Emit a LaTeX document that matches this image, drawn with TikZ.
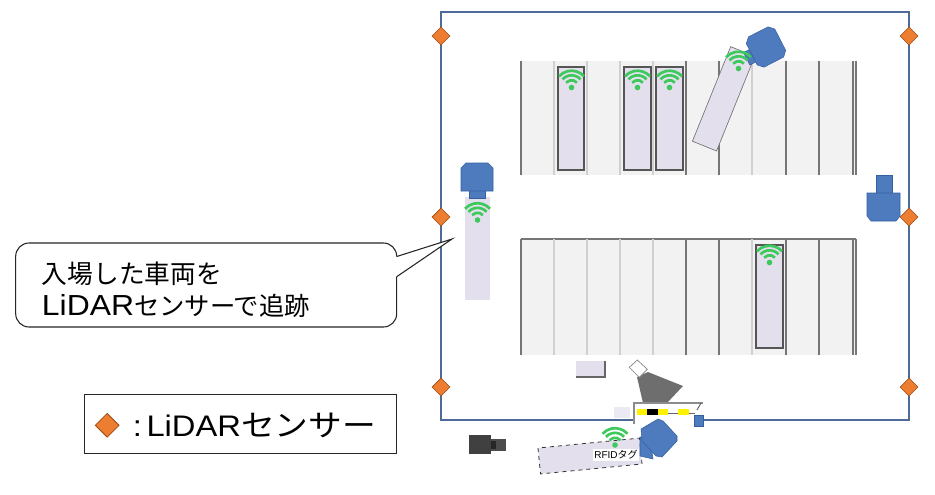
\documentclass[tikz,border=0pt]{standalone}
\usepackage{fontspec}
\setmainfont{Liberation Sans}
\newfontfamily\jp{Noto Sans CJK JP}
\newfontfamily\latwide[FakeStretch=1.1]{Liberation Sans}
\newfontfamily\jpwide[FakeStretch=1.12]{Noto Sans CJK JP}
\usetikzlibrary{shapes.geometric}

\definecolor{framecol}{HTML}{4D6A98}
\definecolor{sensorfill}{HTML}{ED7D31}
\definecolor{sensordraw}{HTML}{9C4A12}
\definecolor{stallfill}{HTML}{F2F2F2}
\definecolor{stalllight}{HTML}{D0D0D0}
\definecolor{stalldark}{HTML}{767676}
\definecolor{carfill}{HTML}{E3DFEC}
\definecolor{cardraw}{HTML}{555555}
\definecolor{truckblue}{HTML}{4E7BBE}
\definecolor{truckedge}{HTML}{34609F}
\definecolor{wifigreen}{HTML}{3DC95C}
\definecolor{gatey}{HTML}{FFF200}
\definecolor{camgray}{HTML}{6E6E6E}

\tikzset{
  sensor/.style={diamond, draw=sensordraw, fill=sensorfill, line width=0.4pt,
    inner sep=0pt, minimum width={18*0.75pt}, minimum height={18*0.75pt}},
  car/.style={fill=carfill, draw=cardraw, line width=0.8pt},
  softcar/.style={fill=carfill},
  truck/.style={fill=truckblue, draw=truckedge, line width=0.4pt},
  wifi/.pic={
    \begin{scope}[x=0.75pt, y=0.75pt]
      \fill[wifigreen] (0,0) circle (2.8);
      \foreach \r in {7.3,12.2,16.8}
        \draw[wifigreen, line width=2pt] (42:\r) arc[start angle=42, end angle=138, radius=\r];
    \end{scope}
  },
  bubble/.style={draw=black!85, fill=white, rounded corners=10pt, line width=0.8pt},
  bubbletext/.style={anchor=base west, inner sep=0pt},
  legendtext/.style={anchor=base west, inner sep=0pt}
}

\begin{document}
\begin{tikzpicture}[x=0.75pt, y=-0.75pt]
\useasboundingbox (0,0) rectangle (935,494);

% ---------- parking blocks ----------
\fill[stallfill] (521,61) rectangle (856,175);
\fill[stallfill] (521,239) rectangle (856,355);
\draw[stalldark, line width=0.8pt] (521,239) -- (856,239);
\foreach \xx/\cc in {521/stalldark,554/stalllight,587/stalllight,620/stalllight,653/stalllight,
                     686/stalldark,719/stalldark,752/stalllight,786/stalldark,819/stalldark,
                     853/stalldark,856/stalldark}{
  \draw[\cc, line width=0.9pt] (\xx,61) -- (\xx,175);
  \draw[\cc, line width=0.9pt] (\xx,239) -- (\xx,355);
}

% ---------- parked vehicles ----------
\draw[car] (558,67) rectangle (584,170);
\draw[car] (624,67) rectangle (651,170);
\draw[car] (656,67) rectangle (683,170);
\draw[car] (756,245) rectangle (783,348);
\pic at (571.5,87.5) {wifi};
\pic at (637.5,87.5) {wifi};
\pic at (669.5,87.5) {wifi};
\pic at (769.5,262.5) {wifi};

% ---------- vehicle turning into a stall ----------
\begin{scope}[shift={(723.6,98.8)}, rotate=-22]
  \draw[fill=carfill, draw=black!55, line width=0.5pt] (-13,-51) rectangle (13,51);
\end{scope}
\begin{scope}[shift={(752,56)}, rotate=27]
  \draw[truck] (-6,-7) rectangle (6,7);
\end{scope}
\begin{scope}[shift={(766,47)}, rotate=27]
  \draw[truck] (-11,-17) -- (11,-17) -- (16,-12) -- (16,12) -- (11,17) -- (-11,17) -- (-16,12) -- (-16,-12) -- cycle;
\end{scope}
\pic at (738.5,68.5) {wifi};

% ---------- vehicle entering on the left ----------
\fill[softcar] (465,197) rectangle (490,300);
\draw[truck] (469,190) rectangle (485,198);
\draw[truck] (466,163) -- (488,163) -- (493,168) -- (493,191) -- (461,191) -- (461,168) -- cycle;
\pic at (477.5,220) {wifi};

% ---------- vehicle at the right wall ----------
\draw[truck] (876,175) rectangle (892,194);
\draw[truck] (867,193) -- (900,193) -- (900,216) -- (896,221) -- (871,221) -- (867,216) -- cycle;

% ---------- small boxes ----------
\fill[carfill] (576,361) rectangle (605,377);
\draw[black!60, line width=1pt] (605,361) -- (605,377) -- (576,377);
\fill[carfill!70] (614,407) rectangle (630,418);

% ---------- camera and its field of view ----------
\fill[camgray] (637,377) -- (648,372) -- (683,386) -- (666,404) -- (643,403) -- cycle;
\draw[fill=white, draw=black!50, line width=0.5pt] (629.3,367.3) -- (637.3,360) -- (647.3,369.3) -- (639.3,377.3) -- cycle;

% ---------- site boundary ----------
\draw[framecol, line width=1.6pt] (634,420) -- (441,420) -- (441,12) -- (909,12) -- (909,420) -- (694,420);

% ---------- gate ----------
\draw[black!45, line width=0.8pt] (634,424) -- (634,403) -- (703,403);
\draw[black!70, line width=0.6pt] (697,410) -- (701,403);
\fill[gatey] (637,409) rectangle (668,415);
\fill[black] (647,409) rectangle (658,415);
\fill[gatey] (678,409) rectangle (689,415);
\draw[black!60, line width=0.6pt] (668,413) -- (678,413) (689,413) -- (695,413);
\draw[truck] (694,415) rectangle (703,426);

% ---------- black camera ----------
\fill[black!75] (469,435) rectangle (491,454);
\fill[black!70] (491,439) rectangle (506,451);
\fill[black!85] (491,441) rectangle (496,449);

% ---------- vehicle at the gate with RFID tag ----------
\begin{scope}[shift={(590,456)}, rotate=5.6]
  \draw[fill=carfill, draw=black!80, dashed, line width=0.6pt] (-51,-13) rectangle (51,13);
  \node[fill=white, inner sep=1pt, font=\fontsize{7.5pt}{8pt}\selectfont] (rfid) at (26,1.5) {RFID{\jp タグ}};
\end{scope}
\pic at (615,445) {wifi};
\draw[truck] (640,437) -- (650,437) -- (653,459) -- (640,456) -- cycle;
\draw[truck] (641,429) -- (658,419) -- (663,421) -- (677,436) -- (677,441) -- (662,457) -- (656,456) -- (642,441) -- cycle;

% ---------- LiDAR sensors on the boundary ----------
\node[sensor] (sTL) at (441,36) {};
\node[sensor] (sML) at (441,217) {};
\node[sensor] (sBL) at (441,387) {};
\node[sensor] (sTR) at (909,36) {};
\node[sensor] (sMR) at (909,217) {};
\node[sensor] (sBR) at (909,387) {};

% ---------- callout ----------
\node[bubble, minimum width={381*0.75pt}, minimum height={84*0.75pt}] (callout) at (206.2,285) {};
\coordinate (tip) at (452,239);
\fill[white] (392,256.5) -- (396.7,256.5) -- (tip) -- (396.7,276.7) -- (392,276.7) -- cycle;
\draw[black!85, line width=0.8pt] (396.7,256.5) -- (tip) -- (396.7,276.7);
\node[bubbletext] (line1) at (41.7,283.5)
  {\fontsize{19.3pt}{22pt}\jp 入場した車両を};
\node[bubbletext] (line2) at (41.7,315.5)
  {\fontsize{21.75pt}{24pt}\latwide LiDAR\fontsize{19pt}{22pt}\jp センサーで追跡};

% ---------- legend ----------
\node[draw=black!85, line width=0.8pt, minimum width={311.7*0.75pt}, minimum height={59*0.75pt}] (legend) at (240.8,423.8) {};
\node[sensor, line width=0.6pt, minimum width={24*0.75pt}, minimum height={24*0.75pt}] (legendmark) at (107.2,425.3) {};
\node[legendtext] (legendlabel) at (132.5,436)
  {\fontsize{22.3pt}{26pt}\latwide :\kern3.5pt LiDAR\fontsize{22.6pt}{26pt}\jpwide センサー};

\end{tikzpicture}
\end{document}
